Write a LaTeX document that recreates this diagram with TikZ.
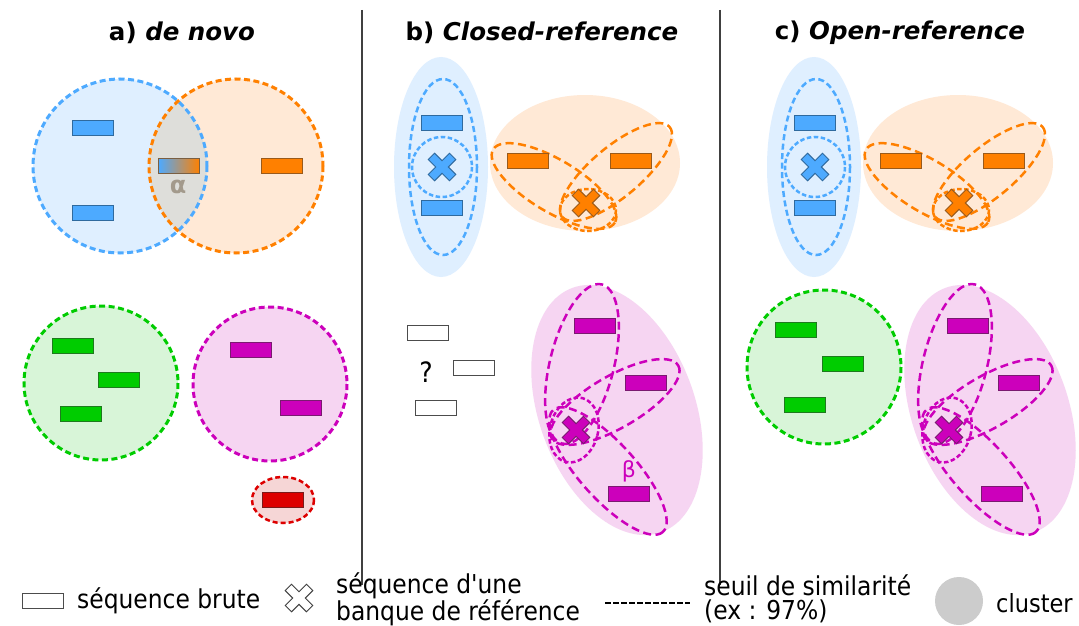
\documentclass[tikz,border=0pt]{standalone}
\usepackage{fontspec}
\setmainfont{DejaVu Sans}
\newfontfamily\condfont{DejaVu Sans Condensed}
\definecolor{cblue}{HTML}{4DAAFF}
\definecolor{dblue}{HTML}{2F6A9E}
\definecolor{lblue}{HTML}{DFEFFF}
\definecolor{corange}{HTML}{FF8000}
\definecolor{dorange}{HTML}{9A5A1A}
\definecolor{lorange}{HTML}{FFE9D6}
\definecolor{cgreen}{HTML}{00CC00}
\definecolor{dgreen}{HTML}{1E7A1E}
\definecolor{lgreen}{HTML}{D8F5D8}
\definecolor{cmag}{HTML}{CC00BB}
\definecolor{dmag}{HTML}{7A1A70}
\definecolor{lmag}{HTML}{F6D5F2}
\definecolor{cred}{HTML}{DD0000}
\definecolor{dred}{HTML}{7A1A1A}
\definecolor{lred}{HTML}{F6D6D6}
\definecolor{lgrey}{HTML}{DEDEDA}
\definecolor{alphagrey}{HTML}{A39A8C}
\definecolor{legcirc}{HTML}{CCCCCC}
\newcommand{\refcross}[3]{%
  \filldraw[fill=#2, draw=#3, line width=0.9pt, shift={#1}, rotate=45, line join=miter]
  (4.5,4.5) -- (15,4.5) -- (15,-4.5) -- (4.5,-4.5) -- (4.5,-15) -- (-4.5,-15) -- (-4.5,-4.5) -- (-15,-4.5)
  -- (-15,4.5) -- (-4.5,4.5) -- (-4.5,15) -- (4.5,15) -- cycle;}
\newcommand{\refpanel}[1]{%
  % blue cluster
  \fill[lblue] (441,167) ellipse [x radius=47, y radius=110];
  \draw[simell, cblue, dash pattern=on 6pt off 3.5pt] (443,167) ellipse [x radius=34, y radius=88];
  \draw[simell, cblue, dash pattern=on 4.5pt off 2.5pt] (442,167) circle (30);
  \node[seqbox, fill=cblue, draw=dblue] (#1b1) at (442,123) {};
  \node[seqbox, fill=cblue, draw=dblue] (#1b2) at (442,208) {};
  \refcross{(442,167)}{cblue}{dblue}
  % orange cluster
  \fill[lorange] (585,163) ellipse [x radius=95, y radius=68];
  \draw[simell, corange, shift={(554,186)}, rotate=-31] (0,0) ellipse [x radius=71, y radius=26];
  \draw[simell, corange, shift={(616,172)}, rotate=40] (0,0) ellipse [x radius=70, y radius=25];
  \draw[simell, corange, dash pattern=on 4.5pt off 2.5pt] (588,210) ellipse [x radius=28, y radius=21];
  \node[seqbox, fill=corange, draw=dorange] (#1o1) at (528,161) {};
  \node[seqbox, fill=corange, draw=dorange] (#1o2) at (631,161) {};
  \refcross{(586,203)}{corange}{dorange}
  % magenta cluster
  \fill[lmag, shift={(617,410)}, rotate=20] (0,0) ellipse [x radius=78, y radius=130];
  \draw[simell, cmag, shift={(582,364)}, rotate=-14] (0,0) ellipse [x radius=32, y radius=82];
  \draw[simell, cmag, shift={(615,402)}, rotate=30] (0,0) ellipse [x radius=73, y radius=26];
  \draw[simell, cmag, shift={(608,471)}, rotate=-48] (0,0) ellipse [x radius=82, y radius=28];
  \draw[simell, cmag, dash pattern=on 4.5pt off 2.5pt, shift={(574,430)}, rotate=-15] (0,0) ellipse [x radius=24, y radius=33];
  \node[seqbox, fill=cmag, draw=dmag] (#1m1) at (595,326) {};
  \node[seqbox, fill=cmag, draw=dmag] (#1m2) at (646,383) {};
  \node[seqbox, fill=cmag, draw=dmag] (#1m3) at (629,494) {};
  \refcross{(576,430)}{cmag}{dmag}
}
\begin{document}
\begin{tikzpicture}[x=1pt, y=-1pt,
  seqbox/.style={rectangle, minimum width=41pt, minimum height=15pt, inner sep=0pt, line width=0.8pt},
  simcircle/.style={line width=3pt, dash pattern=on 6pt off 3.5pt},
  simell/.style={line width=2.5pt, dash pattern=on 8pt off 4.5pt},
  paneltitle/.style={font=\fontsize{24.5}{28}\selectfont\bfseries, inner sep=0pt},
  legtext/.style={font=\condfont\fontsize{26}{24}\selectfont, inner sep=0pt, align=left, anchor=west},
  sepline/.style={line width=1.2pt, draw=black!75}]
\useasboundingbox (0,0) rectangle (1079,626);
\fill[white] (0,0) rectangle (1079,626);

% titles
\node[paneltitle] (ta) at (182,33) {a) \textit{de novo}};
\node[paneltitle] (tb) at (542,33) {b) \textit{Closed-reference}};
\node[paneltitle] (tc) at (900,33) {c) \textit{Open-reference}};

% separators
\coordinate (s1t) at (362,10); \coordinate (s1b) at (362,585);
\coordinate (s2t) at (720,10); \coordinate (s2b) at (720,585);
\draw[sepline] (s1t) -- (s1b);
\draw[sepline] (s2t) -- (s2b);

% ---------- panel a ----------
\fill[lblue] (120,166) circle (87);
\fill[lorange] (236,166) circle (87);
\begin{scope}
  \clip (120,166) circle (87);
  \fill[lgrey] (236,166) circle (87);
\end{scope}
\draw[simcircle, cblue] (120,166) circle (87);
\draw[simcircle, corange] (236,166) circle (87);
\node[seqbox, fill=cblue, draw=dblue] (ab1) at (93,128) {};
\node[seqbox, fill=cblue, draw=dblue] (ab2) at (93,213) {};
\node[seqbox, left color=cblue, right color=corange, draw=dorange!70!dblue] (amix) at (179,166) {};
\node[text=alphagrey, font=\fontsize{24}{24}\selectfont\bfseries, inner sep=0pt] (alpha) at (178,187) {α};
\node[seqbox, fill=corange, draw=dorange] (ao1) at (282,166) {};

\fill[lgreen] (101,383) circle (77);
\draw[simcircle, cgreen] (101,383) circle (77);
\node[seqbox, fill=cgreen, draw=dgreen] (ag1) at (73,346) {};
\node[seqbox, fill=cgreen, draw=dgreen] (ag2) at (119,380) {};
\node[seqbox, fill=cgreen, draw=dgreen] (ag3) at (81,414) {};

\fill[lmag] (270,384) circle (77);
\draw[simcircle, cmag] (270,384) circle (77);
\node[seqbox, fill=cmag, draw=dmag] (am1) at (251,350) {};
\node[seqbox, fill=cmag, draw=dmag] (am2) at (301,408) {};

\fill[lred] (283,500) ellipse [x radius=31, y radius=23];
\draw[simcircle, cred, line width=2.5pt, dash pattern=on 5pt off 3pt] (283,500) ellipse [x radius=31, y radius=23];
\node[seqbox, fill=cred, draw=dred] (ar1) at (283,500) {};

% ---------- panel b ----------
\refpanel{pb}
\node[text=cmag, font=\fontsize{22}{22}\selectfont, inner sep=0pt] (beta) at (629,471) {β};
\node[seqbox, fill=white, draw=black!70, line width=1.2pt] (bu1) at (428,333) {};
\node[seqbox, fill=white, draw=black!70, line width=1.2pt] (bu2) at (474,368) {};
\node[seqbox, fill=white, draw=black!70, line width=1.2pt] (bu3) at (436,408) {};
\node[font=\condfont\fontsize{28}{28}\selectfont, inner sep=0pt] (qm) at (426,372) {?};

% ---------- panel c ----------
\begin{scope}[xshift=373pt]
  \refpanel{pc}
\end{scope}
\fill[lgreen] (824,367) circle (77);
\draw[simcircle, cgreen] (824,367) circle (77);
\node[seqbox, fill=cgreen, draw=dgreen] (cg1) at (796,330) {};
\node[seqbox, fill=cgreen, draw=dgreen] (cg2) at (843,364) {};
\node[seqbox, fill=cgreen, draw=dgreen] (cg3) at (805,405) {};

% ---------- legend ----------
\node[seqbox, fill=white, draw=black!70, line width=1.2pt] (lseq) at (43,601) {};
\node[legtext] (lseqt) at (77,601) {séquence brute};
\refcross{(299,598)}{white}{black!75}
\node[legtext] (lreft) at (336,599) {séquence d'une\\banque de référence};
\coordinate (ld1) at (605,603);
\coordinate (ld2) at (690,603);
\draw[line width=2.5pt, dash pattern=on 6pt off 2pt] (ld1) -- (ld2);
\node[legtext] (lsimt) at (704,599) {seuil de similarité\\(ex : 97\%)};
\fill[legcirc] (959,601) circle (24);
\node[legtext, font=\condfont\fontsize{25}{24}\selectfont] (lclt) at (996,603) {cluster};
\end{tikzpicture}
\end{document}
